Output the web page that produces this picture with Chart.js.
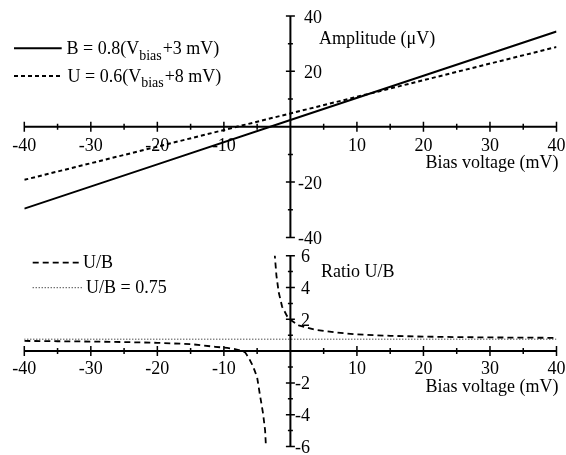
<!DOCTYPE html>
<html>
<head>
<meta charset="utf-8">
<script src="https://cdn.jsdelivr.net/npm/chart.js@4/dist/chart.umd.min.js"></script>
<style>
  html, body { margin: 0; padding: 0; background: #fff; }
  #wrap { position: relative; width: 566px; height: 455px; overflow: hidden; }
  .panel { position: absolute; left: 0; width: 566px; }
</style>
</head>
<body>
<div id="wrap">
  <div class="panel" style="top:0;height:245px"><canvas id="c1" width="566" height="245"></canvas></div>
  <div class="panel" style="top:245px;height:210px"><canvas id="c2" width="566" height="210"></canvas></div>
</div>
<script>
// ---------- data ----------
const biasV = [-40, -20, 0, 20, 40];
const ampB  = [-29.6, -13.6, 2.4, 18.4, 34.4];
const ampU  = [-19.2, -7.2, 4.8, 16.8, 28.8];

const ratioLeftV  = [-40, -35, -30, -25, -20, -15, -11.3, -9.5, -8.35, -7.5, -6.8, -6.3, -5.8, -5.4, -5.0, -4.6, -4.1, -3.8, -3.65];
const ratioLeft   = [0.64, 0.62, 0.60, 0.57, 0.52, 0.44, 0.27, 0.20, 0.13, 0.04, -0.08, -0.4, -0.8, -1.2, -1.65, -2.7, -3.95, -5.0, -6.2];
const ratioRightV = [-2.38, -2.1, -1.76, -1.25, -0.5, 0, 1.25, 3.8, 6.8, 10, 15, 20, 25, 30, 35, 40];
const ratioRight  = [6.2, 4.75, 3.7, 2.8, 2.2, 1.97, 1.62, 1.33, 1.17, 1.05, 0.96, 0.91, 0.88, 0.86, 0.845, 0.835];
const refV     = [-40, 40];
const refRatio = [0.75, 0.75];

// ---------- ticks / labels ----------
const xTickLabels     = [-40, -30, -20, -10, 10, 20, 30, 40];
const xMinorTicks     = [-35, -25, -15, -5, 5, 15, 25, 35];
const ampTickLabels   = [40, 20, -20, -40];
const ampMinorTicks   = [30, 10, -10, -30];
const ratioTickLabels = [6, 4, 2, -2, -4, -6];
const ratioMinorTicks = [5, 3, 1, -1, -3, -5];

const FONT = '18px "Liberation Serif", "Times New Roman", serif';
const SUBFONT = '14px "Liberation Serif", "Times New Roman", serif';

function pts(xs, ys) { return xs.map((v, i) => ({ x: v, y: ys[i] })); }

function crossAxes(o) {
  return {
    id: 'crossAxes',
    afterDatasetsDraw(chart) {
      const ctx = chart.ctx;
      const xs = chart.scales.x, ys = chart.scales.y;
      const x0 = xs.getPixelForValue(0), y0 = ys.getPixelForValue(0);
      ctx.save();
      ctx.setLineDash([]);
      ctx.strokeStyle = '#000';
      ctx.fillStyle = '#000';
      ctx.lineWidth = 2;
      ctx.beginPath();
      ctx.moveTo(xs.getPixelForValue(xs.min), y0);
      ctx.lineTo(xs.getPixelForValue(xs.max), y0);
      ctx.moveTo(x0, ys.getPixelForValue(ys.max));
      ctx.lineTo(x0, ys.getPixelForValue(ys.min));
      ctx.stroke();
      ctx.lineWidth = 1.5;
      ctx.beginPath();
      o.xMajor.forEach(v => { const p = xs.getPixelForValue(v); ctx.moveTo(p, y0 - 5); ctx.lineTo(p, y0 + 5); });
      o.xMinor.forEach(v => { const p = xs.getPixelForValue(v); ctx.moveTo(p, y0 - 3); ctx.lineTo(p, y0 + 3); });
      o.yMajor.forEach(v => { const p = ys.getPixelForValue(v); ctx.moveTo(x0 - 4.5, p); ctx.lineTo(x0 + 4.5, p); });
      o.yMinor.forEach(v => { const p = ys.getPixelForValue(v); ctx.moveTo(x0 - 2.5, p); ctx.lineTo(x0 + 2.5, p); });
      ctx.stroke();
      ctx.font = FONT;
      ctx.textBaseline = 'alphabetic';
      ctx.textAlign = 'center';
      o.xMajor.forEach(v => ctx.fillText(String(v), xs.getPixelForValue(v), y0 + o.xLabelDy));
      ctx.textAlign = 'right';
      o.yMajor.forEach(v => ctx.fillText(String(v), x0 + o.yLabelDx, ys.getPixelForValue(v) + o.yLabelDy));
      ctx.textAlign = 'left';
      ctx.fillText(o.yTitle, o.yTitleX, o.yTitleY);
      ctx.textAlign = 'right';
      ctx.fillText(o.xTitle, o.xTitleX, o.xTitleY);
      // legend
      o.legend.forEach(item => {
        ctx.save();
        ctx.lineWidth = item.width;
        ctx.setLineDash(item.dash);
        ctx.beginPath();
        ctx.moveTo(item.x1, item.y);
        ctx.lineTo(item.x2, item.y);
        ctx.stroke();
        ctx.restore();
        ctx.textAlign = 'left';
        let x = item.tx;
        item.parts.forEach(p => {
          ctx.font = p.sub ? SUBFONT : FONT;
          ctx.fillText(p.t, x, item.ty + (p.sub ? 5.5 : 0));
          x += ctx.measureText(p.t).width + (p.sub ? 1 : 0);
        });
      });
      ctx.restore();
    }
  };
}

const common = {
  responsive: false,
  animation: false,
  events: [],
  plugins: { legend: { display: false }, tooltip: { enabled: false } },
};

new Chart(document.getElementById('c1'), {
  type: 'scatter',
  data: {
    datasets: [
      { label: 'B = 0.8(Vbias+3 mV)', data: pts(biasV, ampB), showLine: true, borderColor: '#000', borderWidth: 2, pointRadius: 0 },
      { label: 'U = 0.6(Vbias+8 mV)', data: pts(biasV, ampU), showLine: true, borderColor: '#000', borderWidth: 2, borderDash: [4, 3], pointRadius: 0 }
    ]
  },
  options: Object.assign({}, common, {
    layout: { padding: { left: 24.3, right: 9.5, top: 16, bottom: 7.6 } },
    scales: {
      x: { type: 'linear', min: -40, max: 40, display: false },
      y: { type: 'linear', min: -40, max: 40, display: false }
    }
  }),
  plugins: [crossAxes({
    xMajor: xTickLabels, xMinor: xMinorTicks, yMajor: ampTickLabels, yMinor: ampMinorTicks,
    xLabelDy: 24.3, yLabelDx: 31.5, yLabelDy: 7,
    yTitle: 'Amplitude (\u03bcV)', yTitleX: 319, yTitleY: 43.5,
    xTitle: 'Bias voltage (mV)', xTitleX: 558.5, xTitleY: 167.5,
    legend: [
      { x1: 14, x2: 61.7, y: 48.3, width: 2, dash: [], tx: 66.5, ty: 54,
        parts: [{ t: 'B = 0.8(V' }, { t: 'bias', sub: true }, { t: '+3 mV)' }] },
      { x1: 14, x2: 60, y: 76, width: 2, dash: [4, 3], tx: 67.5, ty: 81.7,
        parts: [{ t: 'U = 0.6(V' }, { t: 'bias', sub: true }, { t: '+8 mV)' }] }
    ]
  })]
});

new Chart(document.getElementById('c2'), {
  type: 'scatter',
  data: {
    datasets: [
      { label: 'U/B', data: pts(ratioLeftV, ratioLeft), showLine: true, borderColor: '#000', borderWidth: 1.8, borderDash: [6, 4], pointRadius: 0 },
      { label: 'U/B ', data: pts(ratioRightV, ratioRight), showLine: true, borderColor: '#000', borderWidth: 1.8, borderDash: [6, 4], pointRadius: 0 },
      { label: 'U/B = 0.75', data: pts(refV, refRatio), showLine: true, borderColor: '#000', borderWidth: 1, borderDash: [1, 2], pointRadius: 0 }
    ]
  },
  options: Object.assign({}, common, {
    layout: { padding: { left: 24.3, right: 9.5, top: 10.7, bottom: 8.5 } },
    scales: {
      x: { type: 'linear', min: -40, max: 40, display: false },
      y: { type: 'linear', min: -6, max: 6, display: false }
    }
  }),
  plugins: [crossAxes({
    xMajor: xTickLabels, xMinor: xMinorTicks, yMajor: ratioTickLabels, yMinor: ratioMinorTicks,
    xLabelDy: 22.8, yLabelDx: 19.5, yLabelDy: 6.5,
    yTitle: 'Ratio U/B', yTitleX: 321, yTitleY: 32,
    xTitle: 'Bias voltage (mV)', xTitleX: 558.5, xTitleY: 146.7,
    legend: [
      { x1: 32.7, x2: 81.7, y: 17.7, width: 1.8, dash: [6, 4], tx: 83, ty: 23.3, parts: [{ t: 'U/B' }] },
      { x1: 32.7, x2: 83.3, y: 42.7, width: 1, dash: [1, 2], tx: 86, ty: 48.3, parts: [{ t: 'U/B = 0.75' }] }
    ]
  })]
});
</script>
</body>
</html>
